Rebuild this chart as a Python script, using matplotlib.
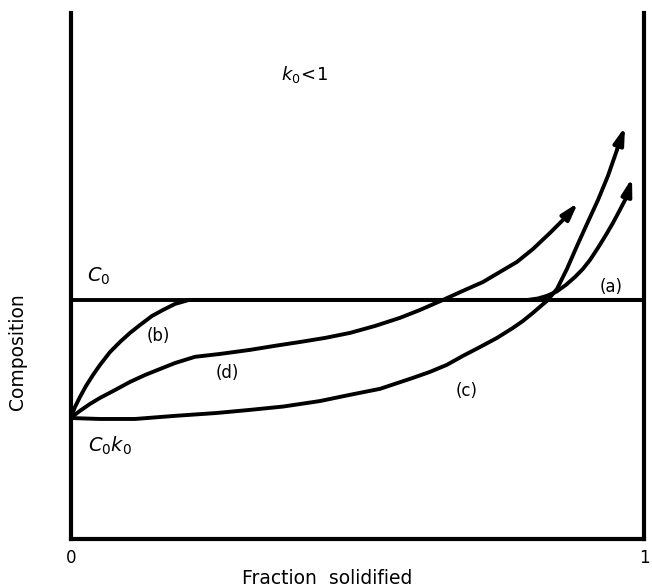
import matplotlib
matplotlib.use("Agg")
import matplotlib.pyplot as plt

# fraction solidified (0..1) vs composition (in units of C0)
# (b) steady state reached quickly, then runs along C0
b_x = [0, 0.0075, 0.0162, 0.0267, 0.0389, 0.0511, 0.0686, 0.0860, 0.1035, 0.1209,
       0.1419, 0.1610, 0.1819, 0.2063, 1.0]
b_y = [0.506, 0.552, 0.594, 0.640, 0.686, 0.728, 0.782, 0.824, 0.862, 0.895,
       0.933, 0.958, 0.983, 1.0, 1.0]

# (d) partial mixing
d_x = [0, 0.0162, 0.0337, 0.0511, 0.0773, 0.1035, 0.1297, 0.1558, 0.1820, 0.2168,
       0.2604, 0.3128, 0.3564, 0.4000, 0.4436, 0.4872, 0.5308, 0.5744, 0.6093, 0.6494,
       0.6843, 0.7192, 0.7488, 0.7785, 0.8064, 0.8360, 0.8622, 0.8849]
d_y = [0.506, 0.536, 0.565, 0.590, 0.623, 0.657, 0.686, 0.711, 0.736, 0.762,
       0.774, 0.791, 0.808, 0.824, 0.841, 0.862, 0.891, 0.925, 0.958, 1.0,
       1.038, 1.075, 1.117, 1.159, 1.213, 1.280, 1.343, 1.406]

# (c) complete mixing in the liquid
c_x = [0, 0.0511, 0.1122, 0.1819, 0.2545, 0.3128, 0.3708, 0.4349, 0.4872, 0.5395,
       0.5971, 0.6267, 0.6558, 0.6843, 0.7140, 0.7436, 0.7715, 0.7889, 0.8064, 0.8204,
       0.8308, 0.8483, 0.8657, 0.8832, 0.9006, 0.9198, 0.9372, 0.9530, 0.9669]
c_y = [0.506, 0.502, 0.502, 0.515, 0.527, 0.540, 0.554, 0.577, 0.603, 0.628,
       0.674, 0.699, 0.728, 0.766, 0.803, 0.841, 0.883, 0.912, 0.946, 0.975,
       0.996, 1.046, 1.130, 1.226, 1.318, 1.418, 1.519, 1.628, 1.724]

# (a) final transient
a_x = [0.7977, 0.8151, 0.8308, 0.8477, 0.8640, 0.8797, 0.8936, 0.9058, 0.9198, 0.9337,
       0.9459, 0.9581, 0.9698, 0.9791]
a_y = [1.0, 1.006, 1.017, 1.035, 1.063, 1.096, 1.130, 1.167, 1.218, 1.272,
       1.322, 1.377, 1.431, 1.510]

C0 = 1.0

labels = ['(a)', '(b)', '(c)', '(d)']
label_x = [0.943, 0.152, 0.691, 0.274]
label_y = [1.054, 0.849, 0.619, 0.695]

plt.rcParams['mathtext.fontset'] = 'dejavusans'

fig = plt.figure(figsize=(6.52, 5.87), dpi=100)
ax = fig.add_axes([0.1084, 0.0818, 0.8793, 0.896])

lw = 2.8
# C0 line across the whole width
ax.plot([0, 1], [C0, C0], color='black', lw=lw, solid_capstyle='butt')

ax.plot(b_x, b_y, color='black', lw=lw, solid_joinstyle='round')

# curves with arrowheads at their ends
for xs, ys in [(d_x, d_y), (c_x, c_y), (a_x, a_y)]:
    ax.plot(xs[:-1], ys[:-1], color='black', lw=lw, solid_joinstyle='round', solid_capstyle='round')
    ax.annotate('', xy=(xs[-1], ys[-1]), xytext=(xs[-2], ys[-2]),
                arrowprops=dict(arrowstyle='-|>,head_length=1.0,head_width=0.3',
                                color='black', lw=lw, shrinkA=0, shrinkB=0))

for lab, x, y in zip(labels, label_x, label_y):
    ax.text(x, y, lab, ha='center', va='center', fontsize=12)

ax.text(0.048, 1.10, r'$C_{\mathrm{0}}$', ha='center', va='center', fontsize=14)
ax.text(0.068, 0.389, r'$C_{\mathrm{0}}k_{\mathrm{0}}$', ha='center', va='center', fontsize=14)
ax.text(0.407, 1.941, r'$k_{\mathrm{0}}\!<\!\mathrm{1}$', ha='center', va='center', fontsize=13)

ax.set_xlim(0, 1)
ax.set_ylim(0, 2.2)
ax.spines['top'].set_visible(False)
for s in ['left', 'right', 'bottom']:
    ax.spines[s].set_linewidth(3)

ax.set_xticks([0, 1])
ax.set_xticklabels(['0', '1'], fontsize=12)
ax.set_yticks([])
ax.tick_params(axis='x', length=0, pad=7)
ax.set_xlabel('Fraction  solidified', fontsize=13.5)
ax.xaxis.set_label_coords(0.447, -0.057)
ax.set_ylabel('Composition', fontsize=13.5)
ax.yaxis.set_label_coords(-0.076, 0.356)

fig.savefig('out.png', dpi=100)
